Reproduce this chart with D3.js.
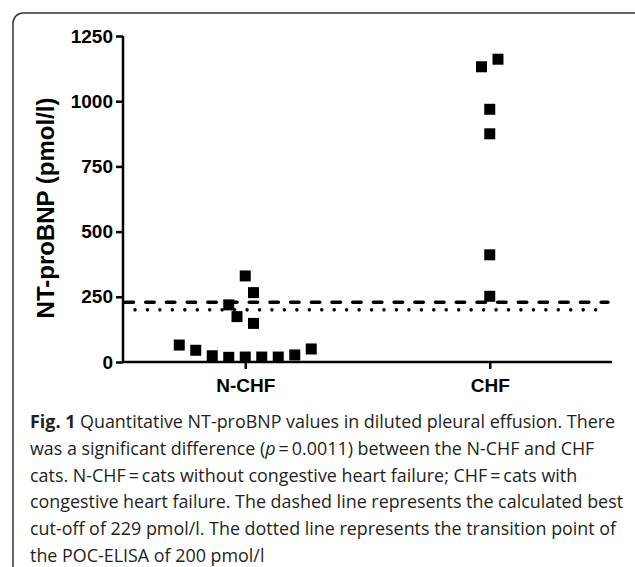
<!DOCTYPE html>
<html>
<head>
<meta charset="utf-8">
<script src="https://cdn.jsdelivr.net/npm/d3@7"></script>
<style>
  body { margin: 0; background: #fff; }
  svg { display: block; }
</style>
</head>
<body>
<script>
// Groups on the x axis
var groups = ["N-CHF", "CHF"];

// NT-proBNP values (pmol/l), with the column slot each dot sits in
var nchfValues = [65, 45, 24, 18, 19, 19, 19, 27, 50, 219, 174, 148, 266, 330];
var nchfSlots  = [-4, -3, -2, -1, 0, 1, 2, 3, 4, -1, -0.5, 0.5, 0.5, 0];
var chfValues  = [1132, 1161, 969, 875, 411, 252];
var chfSlots   = [-0.5, 0.5, 0, 0, 0, 0];

// Reference lines
var cutOff = 229;      // dashed: calculated best cut-off
var transition = 200;  // dotted: POC-ELISA transition point

var yTicks = [0, 250, 500, 750, 1000, 1250];

var caption = [
    [{t: "Fig. 1", b: true}, {t: " Quantitative NT-proBNP values in diluted pleural effusion. There"}],
    [{t: "was a significant difference ("}, {t: "p", i: true}, {t: "\u2009=\u20090.0011) between the N-CHF and CHF"}],
    [{t: "cats. N-CHF\u2009=\u2009cats without congestive heart failure; CHF\u2009=\u2009cats with"}],
    [{t: "congestive heart failure. The dashed line represents the calculated best"}],
    [{t: "cut-off of 229 pmol/l. The dotted line represents the transition point of"}],
    [{t: "the POC-ELISA of 200 pmol/l"}]
];

var width = 635,
    height = 567;

var svg = d3.select("body")
    .append("svg")
    .attr("width", width)
    .attr("height", height);

// Frame round the figure
svg.append("rect")
    .attr("x", 13)
    .attr("y", 13)
    .attr("width", 640)
    .attr("height", 600)
    .attr("rx", 10)
    .attr("fill", "none")
    .attr("stroke", "#333")
    .attr("stroke-width", 1.5);

// Scales
var x = d3.scalePoint()
    .domain(groups)
    .range([123, 612])
    .padding(0.5);

var y = d3.scaleLinear()
    .domain([0, 1250])
    .range([362, 36]);

var jitter = d3.scaleLinear()
    .domain([-1, 1])
    .range([-16.5, 16.5]);

var axisFont = "'Liberation Sans', Arial, sans-serif";

// Y axis
var yAxis = svg.append("g")
    .attr("transform", "translate(123,0)")
    .call(d3.axisLeft(y).tickValues(yTicks).tickFormat(d3.format("d")).tickSize(7).tickPadding(3));

// X axis
var xAxis = svg.append("g")
    .attr("transform", "translate(0,362)")
    .call(d3.axisBottom(x).tickSize(7).tickPadding(10));

[yAxis, xAxis].forEach(function(g){
    g.select(".domain")
        .attr("stroke", "#000")
        .attr("stroke-width", 2.5)
        .attr("d", function(){ return g === yAxis ? "M0,36V362" : "M123,0H612"; });
    g.selectAll(".tick line")
        .attr("stroke", "#000")
        .attr("stroke-width", 2.5);
    g.selectAll(".tick text")
        .attr("fill", "#000")
        .style("font-family", axisFont)
        .style("font-weight", "bold")
        .style("font-size", "19px");
});

// Y axis title
svg.append("text")
    .attr("transform", "translate(54,208) rotate(-90)")
    .attr("text-anchor", "middle")
    .style("font-family", axisFont)
    .style("font-weight", "bold")
    .style("font-size", "24px")
    .text("NT-proBNP (pmol/l)");

// Reference lines
svg.append("line")
    .attr("x1", 125).attr("x2", 608)
    .attr("y1", y(cutOff)).attr("y2", y(cutOff))
    .attr("stroke", "#000")
    .attr("stroke-width", 3.5)
    .attr("stroke-linecap", "round")
    .attr("stroke-dasharray", "8.5,12.2");

svg.append("line")
    .attr("x1", 135).attr("x2", 608)
    .attr("y1", y(transition)).attr("y2", y(transition))
    .attr("stroke", "#000")
    .attr("stroke-width", 3.6)
    .attr("stroke-linecap", "round")
    .attr("stroke-dasharray", "0,12.45");

// Dots
var size = 11;
var points = nchfValues.map(function(v, i){ return {g: "N-CHF", v: v, s: nchfSlots[i]}; })
    .concat(chfValues.map(function(v, i){ return {g: "CHF", v: v, s: chfSlots[i]}; }));

svg.selectAll(".dot")
    .data(points)
    .enter()
    .append("rect")
    .attr("class", "dot")
    .attr("x", function(d){ return x(d.g) + jitter(d.s) - size / 2; })
    .attr("y", function(d){ return y(d.v) - size / 2; })
    .attr("width", size)
    .attr("height", size)
    .attr("fill", "#000");

// Caption
var cap = svg.append("g")
    .style("font-family", "'Open Sans', 'Noto Sans', sans-serif")
    .style("font-size", "17.9px")
    .attr("fill", "#231f20");

caption.forEach(function(line, i){
    var t = cap.append("text")
        .attr("x", 30)
        .attr("y", 428 + i * 26.8);
    line.forEach(function(part){
        t.append("tspan")
            .style("font-weight", part.b ? "bold" : null)
            .style("font-style", part.i ? "italic" : null)
            .text(part.t);
    });
});
</script>
</body>
</html>
